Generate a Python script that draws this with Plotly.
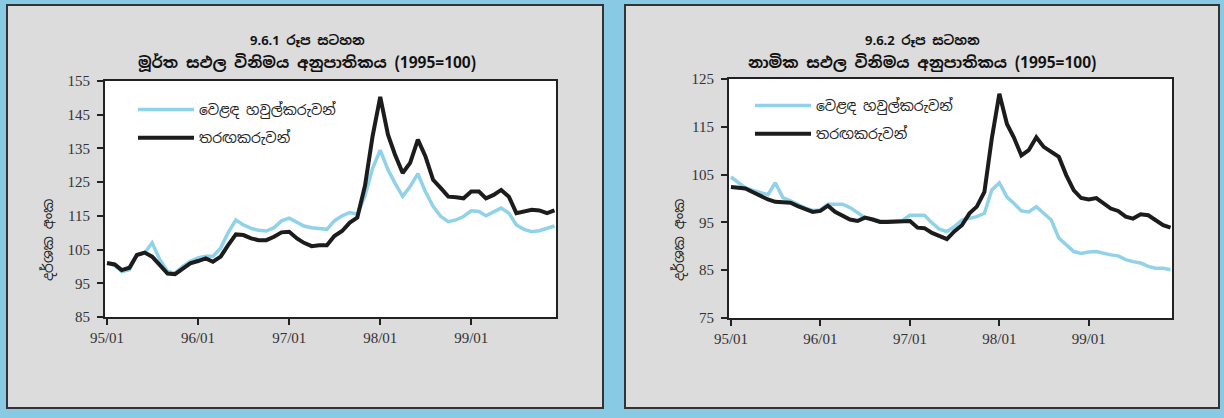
import pandas as pd
import plotly.graph_objects as go

W, H = 1224, 418

months = pd.date_range("1995-01-01", periods=60, freq="MS")
tick_vals = ["1995-01-01", "1996-01-01", "1997-01-01", "1998-01-01", "1999-01-01"]
tick_labels = ["95/01", "96/01", "97/01", "98/01", "99/01"]

series_names = ["වෙළඳ හවුල්කරුවන්", "තරඟකරුවන්"]

real_partners = [101.0, 100.3, 98.5, 99.0, 103.5, 104.0, 107.0, 102.0, 98.5, 98.0,
                 100.0, 101.5, 102.5, 103.0, 103.0, 105.5, 110.0, 113.8, 112.3, 111.3,
                 110.7, 110.5, 111.5, 113.5, 114.3, 113.0, 112.0, 111.5, 111.3, 111.0,
                 113.5, 115.0, 116.0, 115.5, 121.0, 129.0, 134.5, 128.7, 124.7, 120.8,
                 123.7, 127.5, 122.2, 117.8, 114.8, 113.3, 113.8, 114.8, 116.5, 116.3,
                 115.0, 116.3, 117.3, 115.8, 112.3, 111.0, 110.3, 110.6, 111.3, 112.0]
real_competitors = [101.0, 100.6, 98.9, 99.6, 103.4, 104.1, 102.9, 100.4, 97.9, 97.7,
                    99.4, 100.9, 101.6, 102.4, 101.4, 102.9, 106.3, 109.5, 109.3, 108.3,
                    107.8, 107.8, 108.8, 110.1, 110.3, 108.3, 107.0, 106.0, 106.3, 106.3,
                    109.0, 110.5, 113.0, 114.5, 124.0, 138.5, 150.3, 139.1, 133.2, 127.7,
                    130.7, 137.6, 132.7, 125.7, 123.2, 120.7, 120.5, 120.2, 122.2, 122.2,
                    120.2, 121.2, 122.7, 120.7, 115.8, 116.3, 116.8, 116.6, 115.8, 116.6]

nominal_partners = [104.5, 103.3, 102.2, 101.7, 101.2, 100.8, 103.3, 100.2, 99.5, 98.8,
                    98.0, 97.5, 97.6, 98.8, 98.8, 98.8, 98.1, 97.0, 96.0, 95.7,
                    95.3, 95.3, 95.3, 95.4, 96.5, 96.5, 96.5, 94.9, 93.6, 93.1,
                    94.1, 95.5, 95.8, 96.2, 96.9, 101.8, 103.3, 100.3, 99.0, 97.4,
                    97.2, 98.3, 96.9, 95.5, 91.7, 90.3, 88.9, 88.5, 88.8, 88.9,
                    88.5, 88.2, 88.0, 87.2, 86.8, 86.5, 85.8, 85.4, 85.4, 85.1]
nominal_competitors = [102.4, 102.2, 102.1, 101.3, 100.5, 99.8, 99.3, 99.3, 99.1, 98.4,
                       97.7, 97.2, 97.4, 98.5, 97.2, 96.5, 95.6, 95.3, 96.0, 95.6,
                       95.1, 95.1, 95.1, 95.1, 95.3, 93.9, 93.8, 92.8, 92.2, 91.5,
                       93.1, 94.4, 96.9, 98.3, 101.4, 112.5, 121.9, 115.6, 112.8, 109.0,
                       110.1, 112.8, 110.8, 109.7, 108.7, 104.9, 101.7, 100.1, 99.8, 100.1,
                       99.0, 97.9, 97.4, 96.2, 95.8, 96.7, 96.5, 95.5, 94.4, 93.9]

titles_1 = ["9.6.1 රූප සටහන", "9.6.2 රූප සටහන"]
titles_2 = ["මූර්ත සඵල විනිමය අනුපාතිකය (1995=100)",
            "නාමික සඵල විනිමය අනුපාතිකය (1995=100)"]
y_label = "දර්ශක අංක"

BLUE = "#8fd2ea"
BLACK = "#1c1c1c"
SIN = "Noto Sans Sinhala, Noto Serif Sinhala, Iskoola Pota, Noto Sans, sans-serif"
SERIF = "Liberation Serif, Times New Roman, serif"


def px(x):
    return x / W


def py(y):
    return 1 - y / H


fig = go.Figure()

for i, (p, c) in enumerate([(real_partners, real_competitors),
                            (nominal_partners, nominal_competitors)]):
    xa = "x" if i == 0 else "x2"
    ya = "y" if i == 0 else "y2"
    lg = "legend" if i == 0 else "legend2"
    fig.add_trace(go.Scatter(x=months, y=p, mode="lines", name=series_names[0],
                             line=dict(color=BLUE, width=3.5), xaxis=xa, yaxis=ya,
                             legend=lg, legendgroup=f"a{i}"))
    fig.add_trace(go.Scatter(x=months, y=c, mode="lines", name=series_names[1],
                             line=dict(color=BLACK, width=4), xaxis=xa, yaxis=ya,
                             legend=lg, legendgroup=f"b{i}"))

axis_common = dict(showgrid=False, zeroline=False, showline=True, linecolor="#222",
                   linewidth=2, mirror=True, ticks="outside", tickcolor="#222",
                   ticklen=6, tickwidth=1.5, automargin=False,
                   tickfont=dict(family=SERIF, size=15, color="#333"))

xr = ["1994-12-24", "1999-12-07"]
fig.update_layout(
    template="none",
    width=W, height=H,
    autosize=False,
    margin=dict(l=0, r=0, t=0, b=0, pad=0, autoexpand=False),
    paper_bgcolor="#88c9e3",
    plot_bgcolor="white",
    showlegend=True,
    xaxis=dict(domain=[px(105), px(556)], anchor="y", range=xr,
               tickvals=tick_vals, ticktext=tick_labels, **axis_common),
    yaxis=dict(domain=[py(317), py(81)], anchor="x", range=[85, 155],
               tickvals=[85, 95, 105, 115, 125, 135, 145, 155],
               ticklabelstandoff=4, **axis_common),
    xaxis2=dict(domain=[px(729), px(1172)], anchor="y2", range=xr,
                tickvals=tick_vals, ticktext=tick_labels, **axis_common),
    yaxis2=dict(domain=[py(318), py(79)], anchor="x2", range=[75, 125],
                tickvals=[75, 85, 95, 105, 115, 125],
                ticklabelstandoff=4, **axis_common),
    legend=dict(x=px(133), y=py(94), xanchor="left", yanchor="top",
                bgcolor="rgba(0,0,0,0)", borderwidth=0, itemwidth=56, tracegroupgap=7,
                font=dict(family=SIN, size=14, color="#222")),
    legend2=dict(x=px(750), y=py(90), xanchor="left", yanchor="top",
                 bgcolor="rgba(0,0,0,0)", borderwidth=0, itemwidth=56, tracegroupgap=7,
                 font=dict(family=SIN, size=14, color="#222")),
)

shapes = []
for x0, x1 in [(7, 603), (625, 1219)]:
    shapes.append(dict(type="rect", xref="paper", yref="paper", layer="below",
                       x0=px(x0), x1=px(x1), y0=py(408), y1=py(5),
                       fillcolor="#dcdcdc", line=dict(color="#333", width=2)))
for xa, ya in [("x", "y"), ("x2", "y2")]:
    shapes.append(dict(type="rect", xref=f"{xa} domain", yref=f"{ya} domain",
                       layer="below", x0=0, x1=1, y0=0, y1=1,
                       fillcolor="white", line=dict(width=0)))
fig.update_layout(shapes=shapes)

annotations = []
for cx, t1, t2 in [(307, titles_1[0], titles_2[0]), (922, titles_1[1], titles_2[1])]:
    annotations.append(dict(x=px(cx), y=py(40), xref="paper", yref="paper",
                            xanchor="center", yanchor="middle",
                            text=f"<b>{t1}</b>", showarrow=False,
                            font=dict(family=SIN, size=13, color="#111")))
    annotations.append(dict(x=px(cx), y=py(62), xref="paper", yref="paper",
                            xanchor="center", yanchor="middle",
                            text=f"<b>{t2}</b>", showarrow=False,
                            font=dict(family=SIN, size=15.5, color="#111")))
for lx in [48, 679]:
    annotations.append(dict(x=px(lx), y=py(240), xref="paper", yref="paper",
                            xanchor="center", yanchor="middle",
                            text=y_label, textangle=-90, showarrow=False,
                            font=dict(family=SIN, size=14, color="#222")))
fig.update_layout(annotations=annotations)

fig.write_html("out.html", config={"displayModeBar": False},
               post_script="document.body.style.margin='0';")
